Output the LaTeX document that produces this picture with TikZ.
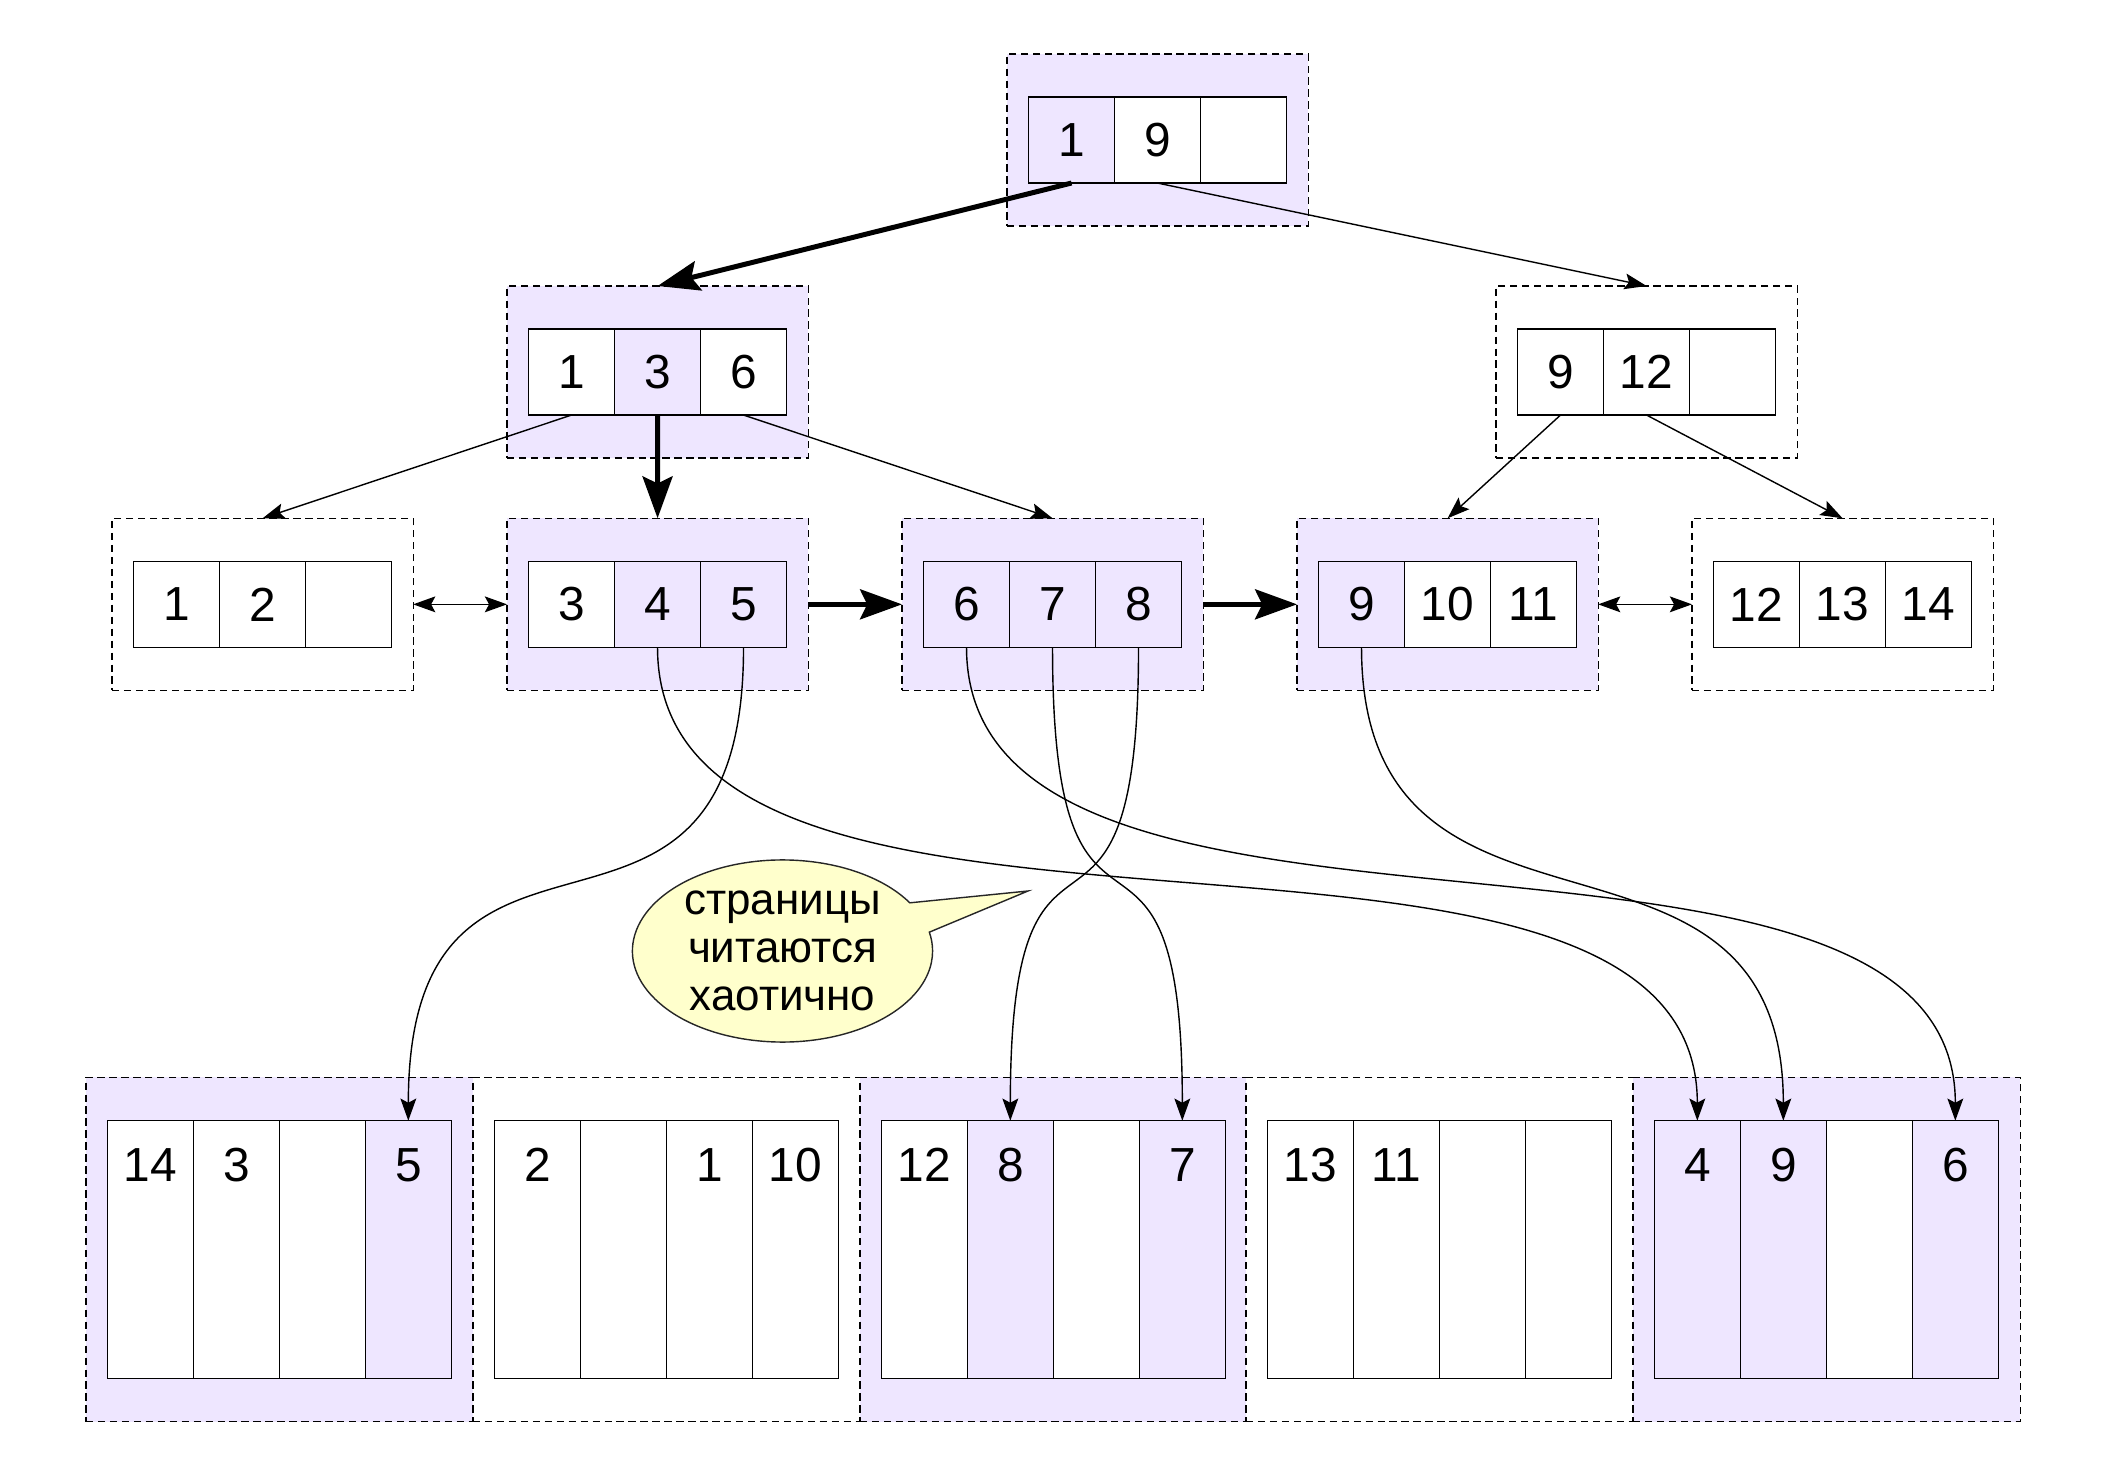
\documentclass[tikz,border=0pt]{standalone}
\usepackage{fontspec}
\setmainfont{Liberation Sans}
\usetikzlibrary{arrows.meta,shapes.callouts}
\definecolor{lav}{RGB}{238,230,255}
\definecolor{bub}{RGB}{255,255,204}
\tikzset{
 obox/.style={draw, dash pattern=on 2.1pt off 1.3pt, line width=0.35pt, minimum width=3.01cm, minimum height=1.72cm, inner sep=0pt, outer sep=0pt, anchor=north west},
 pbox/.style={obox, minimum width=3.87cm, minimum height=3.44cm},
 cell/.style={draw, line width=0.45pt, minimum width=0.86cm, minimum height=0.86cm, inner sep=0pt, outer sep=0pt, anchor=north west, font=\fontsize{13.6}{16}\selectfont},
 pcell/.style={cell, minimum height=2.576cm, text height=0.61cm, text depth=1.966cm},
 lv/.style={fill=lav}, wh/.style={fill=white},
 conn/.style={line width=0.4pt, -{Stealth[length=6.3pt,width=4.5pt,inset=1.2pt]}},
 dconn/.style={line width=0.4pt, {Stealth[length=6.3pt,width=4.5pt,inset=1.2pt]}-{Stealth[length=6.3pt,width=4.5pt,inset=1.2pt]}},
 connthick/.style={line width=1.42pt, -{Stealth[length=11.9pt,width=8.5pt,inset=2pt]}},
 bubtext/.style={align=center, inner sep=0pt, font=\fontsize{12.5}{13.7}\selectfont}
}
\newcommand{\lvlrow}[4]{%
  \foreach \f/\t [count=\i] in {#4}
    \node[cell,\f] (#1c\i) at ({#2+21.5+86*(\i-1)},{#3+43}) {\t};}
\newcommand{\pagerow}[3]{%
  \foreach \f/\t [count=\i] in {#3}
    \node[pcell,\f] (#1c\i) at ({#2+21.3+86*(\i-1)},{#2*0+1120.7}) {\t};}
\begin{document}
\begin{tikzpicture}[x=0.01cm,y=-0.01cm]
\useasboundingbox (0,0) rectangle (2120,1470);
% ---- outer boxes ----
\node[obox,lv] (root) at (1007,54) {};
\node[obox,lv] (l1l) at (507,286) {};
\node[obox,wh] (l1r) at (1496,286) {};
\node[obox,wh] (b1) at (112,518.3) {};
\node[obox,lv] (b2) at (507,518.3) {};
\node[obox,lv] (b3) at (902,518.3) {};
\node[obox,lv] (b4) at (1297,518.3) {};
\node[obox,wh] (b5) at (1692,518.3) {};
\node[pbox,lv] (p1) at (86,1077.3) {};
\node[pbox,wh] (p2) at (473,1077.3) {};
\node[pbox,lv] (p3) at (860,1077.3) {};
\node[pbox,wh] (p4) at (1246,1077.3) {};
\node[pbox,lv] (p5) at (1633,1077.3) {};
% ---- cells ----
\lvlrow{root}{1007}{54}{lv/1,wh/9,wh/{}}
\lvlrow{l1l}{507}{286}{wh/1,lv/3,wh/6}
\lvlrow{l1r}{1496}{286}{wh/9,wh/12,wh/{}}
\lvlrow{b1}{112}{518.3}{wh/1,wh/2,wh/{}}
\lvlrow{b2}{507}{518.3}{wh/3,lv/4,lv/5}
\lvlrow{b3}{902}{518.3}{lv/6,lv/7,lv/8}
\lvlrow{b4}{1297}{518.3}{lv/9,wh/10,wh/11}
\lvlrow{b5}{1692}{518.3}{wh/12,wh/13,wh/14}
\pagerow{p1}{86}{wh/14,wh/3,wh/{},lv/5}
\pagerow{p2}{473}{wh/2,wh/{},wh/1,wh/10}
\pagerow{p3}{860}{wh/12,lv/8,wh/{},lv/7}
\pagerow{p4}{1246}{wh/13,wh/11,wh/{},wh/{}}
\pagerow{p5}{1633}{lv/4,lv/9,wh/{},lv/6}
% ---- tree connectors ----
\draw[connthick] (rootc1.south) -- (l1l.north);
\draw[conn] (rootc2.south) -- (l1r.north);
\draw[conn] (l1lc1.south) -- (b1.north);
\draw[connthick] (l1lc2.south) -- (b2.north);
\draw[conn] (l1lc3.south) -- (b3.north);
\draw[conn] (l1rc1.south) -- (b4.north);
\draw[conn] (l1rc2.south) -- (b5.north);
\draw[dconn] (b1.east) -- (b2.west);
\draw[connthick] (b2.east) -- (b3.west);
\draw[connthick] (b3.east) -- (b4.west);
\draw[dconn] (b4.east) -- (b5.west);
% ---- leaf to page connectors ----
\draw[conn] (b2c2.south) .. controls +(0,380) and +(0,-380) .. (p5c1.north);
\draw[conn] (b2c3.south) .. controls +(0,370) and +(0,-370) .. (p1c4.north);
\draw[conn] (b3c1.south) .. controls +(0,365) and +(0,-365) .. (p5c4.north);
\draw[conn] (b3c2.south) .. controls +(0,370) and +(0,-370) .. (p3c4.north);
\draw[conn] (b3c3.south) .. controls +(0,370) and +(0,-370) .. (p3c2.north);
\draw[conn] (b4c1.south) .. controls +(0,340) and +(0,-340) .. (p5c2.north);
% ---- speech bubble ----
\node[ellipse callout, draw=black!85, line width=0.4pt, fill=bub,
      minimum width=3.0cm, minimum height=1.82cm, inner sep=0pt,
      callout absolute pointer={(1028,891)}, callout pointer arc=20,
      label={[bubtext]center:страницы\\читаются\\хаотично}] (bubble) at (782.5,951) {};
\end{tikzpicture}
\end{document}
